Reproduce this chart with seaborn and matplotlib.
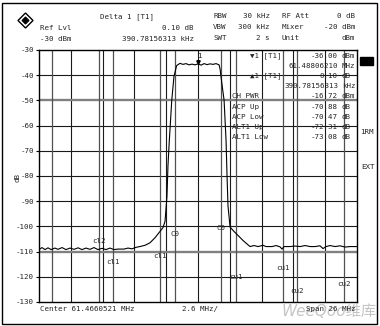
import matplotlib
matplotlib.use("Agg")
import matplotlib.pyplot as plt
import seaborn as sns
import pandas as pd
from matplotlib.patches import Rectangle, Polygon

# ---------------- data ----------------
center_mhz = 61.4660521
span_mhz = 26.0
div_mhz = 2.6
ref_lvl = -30
bottom_lvl = -130
y_ticks = [-30, -40, -50, -60, -70, -80, -90, -100, -110, -120, -130]

trace_freq = [48.47, 48.71, 48.96, 49.20, 49.45, 49.77, 50.02, 50.35, 50.67, 51.00,
              51.33, 51.66, 51.98, 52.31, 52.64, 52.96, 53.29, 53.62, 53.94, 54.27,
              54.60, 54.93, 55.42, 55.74, 56.07, 56.40, 56.72, 57.13, 57.54, 57.95,
              58.36, 58.60, 58.77, 58.93, 59.01, 59.12, 59.32, 59.50, 59.72, 59.99,
              60.24, 60.49, 60.73, 60.98, 61.22, 61.47, 61.72, 61.96, 62.21, 62.45,
              62.70, 62.94, 63.19, 63.27, 63.41, 63.60, 63.76, 63.84, 63.92, 64.09,
              64.41, 64.74, 65.15, 65.48, 65.72, 66.05, 66.38, 66.78, 67.03, 67.52,
              67.85, 68.17, 68.34, 68.50, 68.99, 69.40, 69.81, 70.22, 70.63, 71.04,
              71.44, 71.69, 71.94, 72.26, 72.67, 73.08, 73.49, 73.90, 74.47]
trace_db = [-109.2, -108.4, -109.2, -108.5, -109.2, -108.6, -109.1, -108.4, -109.2, -108.6,
            -109.1, -108.5, -109.2, -108.6, -109.1, -108.4, -109.2, -108.7, -109.2, -108.6,
            -109.2, -109.0, -109.0, -108.6, -108.9, -108.3, -108.0, -107.5, -106.5, -104.5,
            -102.0, -100.5, -98.0, -88.0, -76.0, -66.0, -50.0, -40.5, -36.2, -35.3,
            -35.7, -35.4, -35.9, -35.6, -35.9, -35.5, -36.0, -35.4, -35.8, -35.5,
            -35.7, -35.4, -35.9, -37.5, -43.0, -50.0, -66.0, -80.0, -92.0, -100.3,
            -102.0, -103.6, -105.6, -107.0, -108.0, -107.6, -108.0, -107.5, -108.0, -108.0,
            -107.6, -108.1, -109.0, -108.0, -108.0, -107.8, -108.0, -107.6, -108.0, -108.0,
            -107.7, -108.8, -108.0, -107.6, -108.0, -107.7, -108.2, -108.0, -108.0]

# channel limit lines (offset from center, MHz) and their labels
chan_offsets = [-11.92, -8.08, -6.92, -3.08, -1.92, 1.92, 3.08, 6.92, 8.08, 11.92]
chan_labels = ["", "cl2", "cl1", "cl1", "C0", "C0", "cu1", "cu1", "cu2", "cu2"]
chan_label_db = [None, -105.8, -114.1, -111.7, -103.0, -100.6, -120.1, -116.5, -125.6, -122.9]

marker_freq = 61.48806210
marker_db = -36.00

header_left = [("Ref Lvl", 40, 28), ("-30 dBm", 40, 39), ("Delta 1 [T1]", 100, 17)]
header_right_vals = [("0.10 dB", 194, 28), ("390.78156313 kHz", 194, 39)]
settings_names = ["RBW", "VBW", "SWT"]
settings_vals = ["30 kHz", "300 kHz", "2 s"]
rf_names = ["RF Att", "Mixer", "Unit"]
rf_vals = ["0 dB", "-20 dBm", "dBm"]

table_names = ["\u25bc1 [T1]", "", "\u25b21 [T1]", "", "CH PWR", "ACP Up", "ACP Low", "ALT1 Up", "ALT1 Low"]
table_vals = ["-36.00", "61.48806210", "0.10", "390.78156313", "-16.72", "-70.88", "-70.47", "-72.31", "-73.08"]
table_units = ["dBm", "MHz", "dB", "kHz", "dBm", "dB", "dB", "dB", "dB"]
table_rows_y = [56, 66, 76, 86, 96, 107, 117, 127, 137]

# ---------------- figure ----------------
W, H = 380, 326
sns.set_style("white")
FONT = ["DejaVu Sans Mono", "DejaVu Sans"]
plt.rcParams["font.family"] = FONT
FS = 5.4

fig = plt.figure(figsize=(W / 100, H / 100), dpi=100)
L, R, T, B = 39, 357, 50, 302
ax = fig.add_axes([L / W, 1 - B / H, (R - L) / W, (B - T) / H])

x0 = center_mhz - span_mhz / 2
x1 = center_mhz + span_mhz / 2

# grid
for k in range(1, 10):
    ax.axvline(x0 + k * div_mhz, color="#1a1a1a", lw=0.8, zorder=1)
for v in y_ticks[1:-1]:
    if v in (-50, -110):
        ax.axhline(v, color="#808080", lw=1.7, zorder=1)
    else:
        ax.axhline(v, color="#1a1a1a", lw=0.8, zorder=1)

# channel lines
for off in chan_offsets:
    ax.axvline(center_mhz + off, color="#505050", lw=0.9, zorder=1)

# trace
df = pd.DataFrame({"freq": trace_freq, "level": trace_db})
sns.lineplot(data=df, x="freq", y="level", ax=ax, color="black", lw=0.8, zorder=3)

# channel labels
for off, lab, yv in zip(chan_offsets, chan_labels, chan_label_db):
    if lab and yv is not None:
        ax.text(center_mhz + off, yv, lab, ha="center", va="center", fontsize=FS,
                family=FONT, zorder=4)

# marker
ax.plot([marker_freq], [marker_db + 1.2], marker="v", ms=2.5, color="black", zorder=4)
ax.text(marker_freq + 0.1, marker_db + 3.6, "1", ha="center", va="center", fontsize=FS, family=FONT)

ax.set_xlim(x0, x1)
ax.set_ylim(bottom_lvl, ref_lvl)
ax.set_xticks([])
ax.set_yticks(y_ticks)
ax.set_yticklabels([str(v) for v in y_ticks], fontsize=FS, family=FONT)
ax.tick_params(axis="y", length=2, width=0.8, pad=1.5, left=True, color="black")
ax.set_xlabel("")
ax.set_ylabel("")
for s in ax.spines.values():
    s.set_color("black")
    s.set_linewidth(1.0)


def ftxt(x, y, s, ha="left", **kw):
    kw.setdefault("fontsize", FS)
    kw.setdefault("family", FONT)
    fig.text(x / W, 1 - y / H, s, ha=ha, va="center", **kw)


ftxt(18, 177, "dB", ha="center", rotation=90)

for s, x, y in header_left:
    ftxt(x, y, s)
for s, x, y in header_right_vals:
    ftxt(x, y, s, ha="right")
for i, y in enumerate([16, 27, 38]):
    ftxt(213, y, settings_names[i])
    ftxt(270, y, settings_vals[i], ha="right")
    ftxt(282, y, rf_names[i])
    ftxt(355, y, rf_vals[i], ha="right")

for name, val, unit, y in zip(table_names, table_vals, table_units, table_rows_y):
    if name.startswith("\u25bc") or name.startswith("\u25b2"):
        ftxt(250, y, name)
    elif name:
        ftxt(232, y, name)
    ftxt(338, y, val, ha="right")
    ftxt(342, y, unit)

ftxt(360, 132, "1RM")
ftxt(361, 167, "EXT")
ftxt(40, 309, "Center 61.4660521 MHz")
ftxt(182, 309, "2.6 MHz/")
ftxt(355, 309, "Span 26 MHz", ha="right")

# watermark
fig.text(282 / W, 1 - 312 / H, "WeeQoo\u7ef4\u5e93", ha="left", va="center", fontsize=11,
         style="italic", color="#c4c4c4", family=["DejaVu Sans", "Noto Sans CJK SC"], zorder=0)

# black box at right
fig.patches.append(Rectangle((360 / W, 1 - 65 / H), 13 / W, 8 / H, transform=fig.transFigure,
                             facecolor="black", edgecolor="black"))
# logo diamond
cx, cy, r = 25.5, 20.5, 7.5
pts = [((cx) / W, 1 - (cy - r) / H), ((cx + r) / W, 1 - cy / H),
       ((cx) / W, 1 - (cy + r) / H), ((cx - r) / W, 1 - cy / H)]
fig.patches.append(Polygon(pts, closed=True, transform=fig.transFigure, fill=False,
                           edgecolor="black", lw=1.0))
r2 = 3.5
pts2 = [((cx) / W, 1 - (cy - r2) / H), ((cx + r2) / W, 1 - cy / H),
        ((cx) / W, 1 - (cy + r2) / H), ((cx - r2) / W, 1 - cy / H)]
fig.patches.append(Polygon(pts2, closed=True, transform=fig.transFigure, facecolor="black",
                           edgecolor="black", lw=0.8))
# outer frame
fig.patches.append(Rectangle((2 / W, 2 / H), 375 / W, 321 / H, transform=fig.transFigure,
                             fill=False, edgecolor="black", lw=1.0))

fig.savefig("out.png", dpi=100)
